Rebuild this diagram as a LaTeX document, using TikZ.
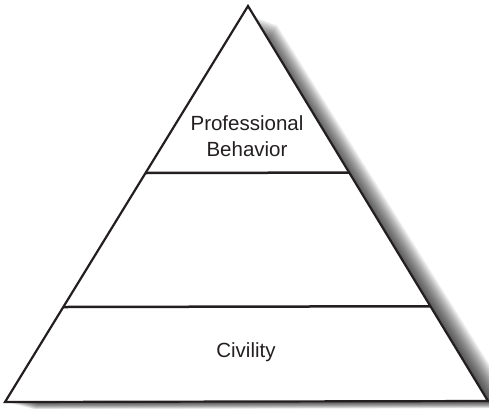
\documentclass[tikz,border=0pt]{standalone}
\usepackage{fontspec}
\setmainfont{Liberation Sans}
\usepackage{tikz}
\usetikzlibrary{calc}
\definecolor{ink}{RGB}{35,31,32}

\begin{document}
\begin{tikzpicture}[x=1pt,y=-1pt,
  edge/.style={draw=ink,line width=2.2pt,line join=miter},
  level/.style={draw=ink,line width=2.5pt},
  tag/.style={text=ink,font=\fontsize{20.5}{26}\selectfont,align=center,inner sep=0pt}]
\useasboundingbox (0,0) rectangle (489,408);
\coordinate (apex) at (248,6);
\coordinate (baseL) at (5,402);
\coordinate (baseR) at (488,401);
% soft shadow, stacked light copies
\foreach \d in {1,...,18}
  \fill[black,opacity=0.06] ($(apex)+(\d*1.6,\d*0.6+8)$) -- ($(baseL)+(\d*1.6,\d*0.4)$)
    -- ($(baseR)+(\d*1.6,\d*0.4)$) -- cycle;
\fill[white] (apex) -- (baseL) -- (baseR) -- cycle;
% the two level lines
\coordinate (topL) at ($(apex)!0.4217!(baseL)$);
\coordinate (topR) at ($(apex)!0.4217!(baseR)$);
\coordinate (midL) at ($(apex)!0.7601!(baseL)$);
\coordinate (midR) at ($(apex)!0.7601!(baseR)$);
\draw[level] (topL) -- (topR);
\draw[level] (midL) -- (midR);
\draw[edge] (apex) -- (baseL) -- (baseR) -- cycle;
\node[tag] (prof) at (247,136) {Professional\\Behavior};
\node[tag] (civ) at (246,352) {Civility};
\end{tikzpicture}
\end{document}
